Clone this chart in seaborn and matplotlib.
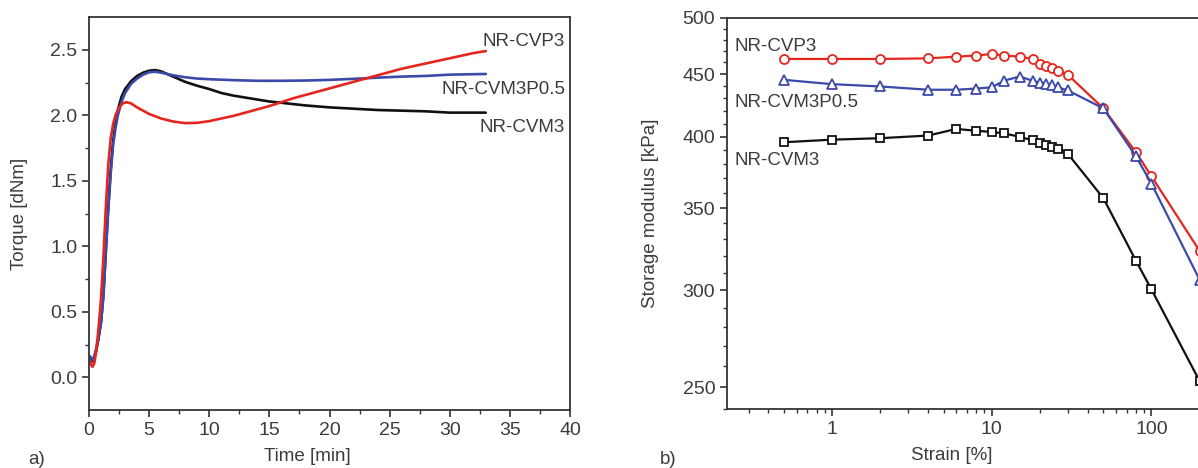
import numpy as np
import pandas as pd
import matplotlib
matplotlib.use("Agg")
import matplotlib.pyplot as plt
import matplotlib.ticker as mticker
import seaborn as sns

# ---------------- data: panel a (cure curves) ----------------
t_cvp3 = [0.1, 0.2, 0.3, 0.45, 0.6, 0.8, 1.0, 1.2, 1.4, 1.6, 1.8, 2.0, 2.2, 2.5, 2.8, 3.1,
          3.5, 4, 4.5, 5, 6, 7, 8, 9, 10, 11, 12, 13, 14, 15, 16, 17, 18, 19, 20, 21, 22,
          23, 24, 25, 26, 27, 28, 29, 30, 31, 32, 33]
tq_cvp3 = [0.12, 0.09, 0.08, 0.11, 0.20, 0.38, 0.60, 0.92, 1.30, 1.62, 1.82, 1.93, 2.00,
           2.06, 2.09, 2.10, 2.09, 2.06, 2.035, 2.01, 1.975, 1.952, 1.94, 1.942, 1.955,
           1.975, 1.995, 2.02, 2.045, 2.07, 2.10, 2.13, 2.155, 2.18, 2.205, 2.23, 2.255,
           2.28, 2.305, 2.33, 2.355, 2.375, 2.395, 2.415, 2.435, 2.455, 2.475, 2.49]

t_cvm3 = [0.1, 0.25, 0.4, 0.6, 0.8, 1.0, 1.2, 1.4, 1.6, 1.8, 2.0, 2.2, 2.4, 2.7, 3.0, 3.5,
          4.0, 4.5, 5.0, 5.5, 6, 6.5, 7, 8, 9, 10, 11, 12, 13, 14, 15, 16, 17, 18, 20, 22,
          24, 26, 28, 30, 33]
tq_cvm3 = [0.15, 0.12, 0.14, 0.20, 0.30, 0.42, 0.63, 0.97, 1.30, 1.58, 1.80, 1.94, 2.04,
           2.14, 2.20, 2.26, 2.30, 2.325, 2.34, 2.345, 2.335, 2.315, 2.295, 2.255, 2.225,
           2.20, 2.17, 2.15, 2.135, 2.12, 2.105, 2.095, 2.085, 2.075, 2.06, 2.05, 2.04,
           2.035, 2.03, 2.02, 2.02]

t_cvm3p = [0.1, 0.25, 0.4, 0.6, 0.8, 1.0, 1.2, 1.4, 1.6, 1.8, 2.0, 2.2, 2.4, 2.7, 3.0, 3.5,
           4.0, 4.5, 5.0, 5.5, 6, 7, 8, 9, 10, 12, 14, 16, 18, 20, 22, 24, 26, 28, 30, 33]
tq_cvm3p = [0.16, 0.13, 0.15, 0.22, 0.31, 0.42, 0.62, 0.95, 1.27, 1.55, 1.77, 1.90, 2.00,
            2.10, 2.17, 2.24, 2.28, 2.31, 2.328, 2.332, 2.325, 2.305, 2.29, 2.28, 2.275,
            2.268, 2.263, 2.263, 2.265, 2.27, 2.278, 2.287, 2.295, 2.30, 2.31, 2.315]

# ---------------- data: panel b (strain sweep) ----------------
strain = [0.5, 1, 2, 4, 6, 8, 10, 12, 15, 18, 20, 22, 24, 26, 30, 50, 80, 100, 200]
g_cvp3 = [463, 463, 463, 463.5, 465, 466, 467.4, 466, 465, 463, 459, 457, 455.6, 453,
          449.4, 422, 388.6, 371.5, 323]
g_cvm3p = [445.2, 441.6, 439.7, 437, 437, 438, 439, 444.6, 448, 444.4, 442.9, 441.6,
           440.5, 439, 436.4, 422, 385.6, 366.4, 306]
g_cvm3 = [396, 397.9, 399, 401, 406, 404.6, 403.7, 402.6, 400, 397.4, 395.4, 394, 392.7,
          391, 387.4, 356.5, 317, 300.4, 253]

labels = ["NR-CVP3", "NR-CVM3P0.5", "NR-CVM3"]
RED, BLUE, BLACK = "#e5261e", "#3b49a8", "#111111"
TXT = "#3c3c3c"
FS_ANN = 13.5

sns.set_theme(style="ticks")
plt.rcParams["font.family"] = ["Liberation Sans", "DejaVu Sans"]
plt.rcParams.update({
    "axes.edgecolor": "#333333",
    "axes.linewidth": 1.3,
    "xtick.color": "#333333", "ytick.color": "#333333",
    "xtick.labelcolor": TXT, "ytick.labelcolor": TXT,
    "xtick.direction": "out", "ytick.direction": "out",
    "xtick.major.size": 5, "ytick.major.size": 5,
    "xtick.minor.size": 3, "ytick.minor.size": 3,
    "xtick.major.width": 1.2, "ytick.major.width": 1.2,
    "xtick.minor.width": 1.0, "ytick.minor.width": 1.0,
    "xtick.labelsize": 14, "ytick.labelsize": 14,
    "axes.labelsize": 13.5, "axes.labelcolor": TXT,
})

fig = plt.figure(figsize=(11.98, 4.68), dpi=100)
axL = fig.add_axes([89 / 1198, 1 - 410 / 468, 481 / 1198, 393 / 468])
axR = fig.add_axes([727 / 1198, 1 - 409 / 468, 488 / 1198, 391 / 468])

# ----- panel a -----
lw = 1.9
sns.lineplot(x=t_cvm3, y=tq_cvm3, ax=axL, color=BLACK, lw=lw, sort=False, estimator=None)
sns.lineplot(x=t_cvm3p, y=tq_cvm3p, ax=axL, color=BLUE, lw=lw, sort=False, estimator=None)
sns.lineplot(x=t_cvp3, y=tq_cvp3, ax=axL, color=RED, lw=lw, sort=False, estimator=None)
axL.set_xlim(0, 40)
axL.set_ylim(-0.25, 2.75)
axL.xaxis.set_major_locator(mticker.MultipleLocator(5))
axL.xaxis.set_minor_locator(mticker.MultipleLocator(2.5))
axL.yaxis.set_major_locator(mticker.FixedLocator([0, 0.5, 1.0, 1.5, 2.0, 2.5]))
axL.yaxis.set_minor_locator(mticker.FixedLocator([0.25, 0.75, 1.25, 1.75, 2.25]))
axL.yaxis.set_major_formatter(mticker.FormatStrFormatter("%.1f"))
axL.set_xlabel("Time [min]")
axL.set_ylabel("Torque [dNm]")
axL.xaxis.set_label_coords(0.453, -0.097)
axL.yaxis.set_label_coords(-0.127, 0.50)
for s in axL.spines.values():
    s.set_visible(True)
axL.text(39.6, 2.565, labels[0], ha="right", va="center", fontsize=FS_ANN, color=TXT)
axL.text(39.6, 2.20, labels[1], ha="right", va="center", fontsize=FS_ANN, color=TXT)
axL.text(39.6, 1.905, labels[2], ha="right", va="center", fontsize=FS_ANN, color=TXT)

# ----- panel b -----
mk = dict(markersize=6.5, markerfacecolor="white", markeredgewidth=1.3, lw=1.6)
sns.lineplot(x=strain, y=g_cvp3, ax=axR, color=RED, marker="o", markeredgecolor=RED,
             sort=False, estimator=None, **mk)
sns.lineplot(x=strain, y=g_cvm3p, ax=axR, color=BLUE, marker="^", markeredgecolor=BLUE,
             sort=False, estimator=None, **mk)
sns.lineplot(x=strain, y=g_cvm3, ax=axR, color=BLACK, marker="s", markeredgecolor=BLACK,
             sort=False, estimator=None, **{**mk, "markersize": 5.5})
axR.set_xscale("log")
axR.set_yscale("log")
axR.set_xlim(0.22, 250)
axR.set_ylim(240, 500)
axR.xaxis.set_major_locator(mticker.FixedLocator([1, 10, 100]))
axR.xaxis.set_major_formatter(mticker.FixedFormatter(["1", "10", "100"]))
axR.xaxis.set_minor_locator(mticker.LogLocator(base=10, subs=np.arange(2, 10), numticks=20))
axR.xaxis.set_minor_formatter(mticker.NullFormatter())
axR.yaxis.set_major_locator(mticker.FixedLocator([250, 300, 350, 400, 450, 500]))
axR.yaxis.set_major_formatter(mticker.FixedFormatter(["250", "300", "350", "400", "450", "500"]))
axR.yaxis.set_minor_locator(mticker.FixedLocator(np.arange(240, 501, 10)))
axR.yaxis.set_minor_formatter(mticker.NullFormatter())
axR.set_xlabel("Strain [%]")
axR.set_ylabel("Storage modulus [kPa]")
axR.xaxis.set_label_coords(0.460, -0.097)
axR.yaxis.set_label_coords(-0.139, 0.50)
for s in axR.spines.values():
    s.set_visible(True)
axR.text(0.245, 473.6, labels[0], ha="left", va="center", fontsize=FS_ANN, color=TXT)
axR.text(0.245, 427, labels[1], ha="left", va="center", fontsize=FS_ANN, color=TXT)
axR.text(0.245, 383, labels[2], ha="left", va="center", fontsize=FS_ANN, color=TXT)

fig.text(37 / 1198, 1 - 459 / 468, "a)", ha="center", va="center", fontsize=13.5, color=TXT)
fig.text(668 / 1198, 1 - 459 / 468, "b)", ha="center", va="center", fontsize=13.5, color=TXT)

fig.savefig("out.png", dpi=100)
